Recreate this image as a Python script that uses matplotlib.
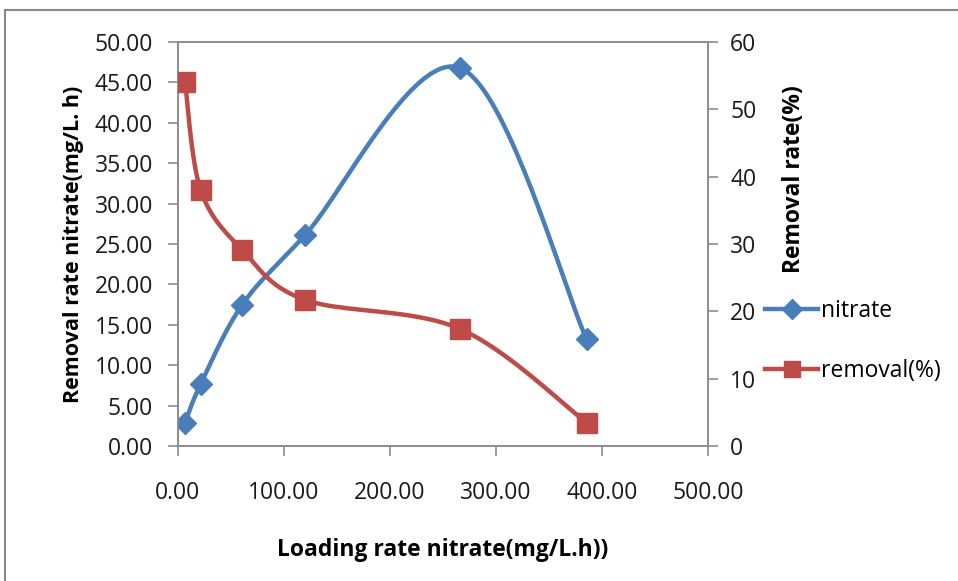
import numpy as np
import matplotlib.pyplot as plt
from matplotlib.patches import Rectangle

plt.rcParams['font.family'] = ['Open Sans', 'DejaVu Sans']

loading = [6.6, 21.4, 60.7, 119.8, 266.0, 385.5]
nitrate = [2.85, 7.67, 17.5, 26.1, 46.8, 13.2]
removal = [54.1, 38.0, 29.1, 21.7, 17.4, 3.46]

blue = '#4A7EBB'
red = '#BE4B48'
grey = '#8C8C8C'


def smooth(x, y, xr, yr, n=40):
    # сглаживание как в Excel: Catmull-Rom -> Безье, в нормированных координатах
    px = np.asarray(x, float) / xr
    py = np.asarray(y, float) / yr
    P = np.column_stack([px, py])
    P = np.vstack([P[0], P, P[-1]])
    out = []
    t = np.linspace(0, 1, n)[:, None]
    for i in range(1, len(P) - 2):
        p0, p1, p2, p3 = P[i - 1], P[i], P[i + 1], P[i + 2]
        c1 = p1 + (p2 - p0) / 6
        c2 = p2 - (p3 - p1) / 6
        seg = ((1 - t) ** 3) * p1 + 3 * ((1 - t) ** 2) * t * c1 + 3 * (1 - t) * t ** 2 * c2 + t ** 3 * p2
        out.append(seg)
    out = np.vstack(out)
    return out[:, 0] * xr, out[:, 1] * yr


fig = plt.figure(figsize=(9.58, 5.81), dpi=100)
fig.patches.append(Rectangle((5 / 958, -0.1), 1.2, 1 - 10 / 581 + 0.1, transform=fig.transFigure,
                             fill=False, edgecolor='#888888', linewidth=1.5))

ax = fig.add_axes([178 / 958, 1 - 446 / 581, 530 / 958, 404 / 581])
ax2 = ax.twinx()

sx, sy = smooth(loading, nitrate, 500, 50 * 1.31)
ax.plot(sx, sy, color=blue, lw=3.2, zorder=3)
ax.plot(loading, nitrate, 'D', color=blue, ms=11, zorder=4)
ln1, = ax.plot([], [], color=blue, lw=3.2, marker='D', ms=10, label='nitrate')

sx2, sy2 = smooth(loading, removal, 500, 60 * 1.31)
ax2.plot(sx2, sy2, color=red, lw=3.2, zorder=3)
ax2.plot(loading, removal, 's', color=red, ms=14, zorder=4)
ln2, = ax2.plot([], [], color=red, lw=3.2, marker='s', ms=12, label='removal(%)')

ax.set_xlim(0, 500)
ax.set_ylim(0, 50)
ax2.set_ylim(0, 60)
ax.set_xticks(np.arange(0, 501, 100))
ax.set_xticklabels([f'{v:.2f}' for v in np.arange(0, 501, 100)])
ax.set_yticks(np.arange(0, 50.1, 5))
ax.set_yticklabels([f'{v:.2f}' for v in np.arange(0, 50.1, 5)])
ax2.set_yticks(np.arange(0, 61, 10))

for a in (ax, ax2):
    for s in a.spines.values():
        s.set_color(grey)
        s.set_linewidth(1.2)
    a.tick_params(colors=grey, labelcolor='#1a1a1a', labelsize=16.5, length=7, width=1.2)
ax.tick_params(axis='x', pad=18)
ax.tick_params(axis='y', pad=11)
ax2.tick_params(axis='y', pad=9)

ax.set_xlabel('Loading rate nitrate(mg/L.h))', fontsize=16.5, fontweight='bold', labelpad=24)
ax.set_ylabel('Removal rate nitrate(mg/L. h)', fontsize=15.5, fontweight='bold', labelpad=8)
ax2.set_ylabel('Removal rate(%)', fontsize=16.5, fontweight='bold')
ax2.yaxis.set_label_coords(1.14, 0.66)

fig.legend(handles=[ln1, ln2], loc='upper left', bbox_to_anchor=(756 / 958, 1 - 290 / 581),
           frameon=False, fontsize=16.5, handlelength=2.3, handletextpad=0.15,
           labelspacing=1.55, borderaxespad=0)

fig.savefig('out.png', dpi=100)
